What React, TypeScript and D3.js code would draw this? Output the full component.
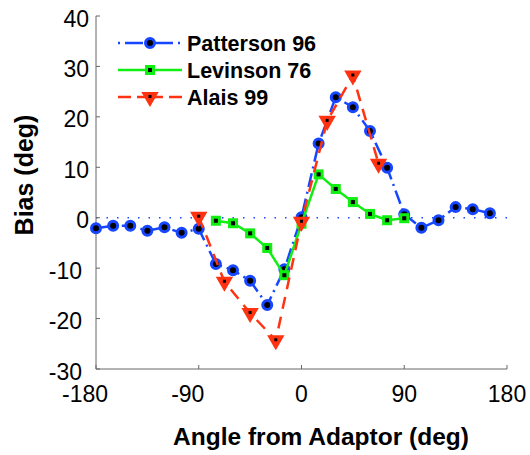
import * as d3 from "d3";

// Patterson 96 (blue circles, dash-dot)
const pattersonX = [-180, -165, -150, -135, -120, -105, -90, -75, -60, -45, -30, -15, 0, 15, 30, 45, 60, 75, 90, 105, 120, 135, 150, 165];
const pattersonY = [-2.1, -1.6, -1.6, -2.6, -1.9, -3.0, -2.2, -9.2, -10.4, -12.5, -17.3, -10.2, 0.1, 14.7, 23.9, 21.9, 17.2, 9.9, 0.7, -2.0, -0.5, 2.1, 1.7, 0.9];

// Levinson 76 (green squares, solid)
const levinsonX = [-75, -60, -45, -30, -15, 0, 15, 30, 45, 60, 75, 90];
const levinsonY = [-0.6, -1.1, -3.1, -6.0, -11.4, -1.2, 8.6, 5.7, 3.1, 0.75, -0.5, -0.1];

// Alais 99 (red triangles, dashed)
const alaisX = [-90, -67.5, -45, -22.5, 0, 22.5, 45, 67.5];
const alaisY = [0.2, -12.7, -18.9, -24.3, -0.8, 19.2, 28.2, 10.7];

const xTicks = [-180, -90, 0, 90, 180];
const yTicks = [-30, -20, -10, 0, 10, 20, 30, 40];

const seriesNames = ["Patterson 96", "Levinson 76", "Alais 99"];

const BLUE = "#1646ff";
const GREEN = "#11ee11";
const RED = "#ff3311";
const FONT = "'Liberation Sans', Arial, Helvetica, sans-serif";

export default function App() {
  const width = 530,
    height = 455;
  const left = 96,
    right = 507,
    top = 16,
    bottom = 369;

  const x = d3.scaleLinear().domain([-180, 180]).range([left, right]);
  const y = d3.scaleLinear().domain([-30, 40]).range([bottom, top]);

  const line = d3
    .line<[number, number]>()
    .x((d) => x(d[0]))
    .y((d) => y(d[1]));

  const pat = pattersonX.map((v, i) => [v, pattersonY[i]] as [number, number]);
  const lev = levinsonX.map((v, i) => [v, levinsonY[i]] as [number, number]);
  const ala = alaisX.map((v, i) => [v, alaisY[i]] as [number, number]);

  const tri = d3.symbol().type(d3.symbolTriangle).size(95)();

  const circle = (cx: number, cy: number, k: string) => (
    <circle key={k} cx={cx} cy={cy} r={4.5} fill="#000" stroke={BLUE} strokeWidth={3} />
  );
  const square = (cx: number, cy: number, k: string) => (
    <rect key={k} x={cx - 3.5} y={cy - 3.5} width={7} height={7} fill="#000" stroke={GREEN} strokeWidth={3} />
  );
  const triangle = (cx: number, cy: number, k: string) => (
    <g key={k} transform={`translate(${cx},${cy})`}>
      <path d={tri!} transform="rotate(180)" fill={RED} stroke={RED} strokeWidth={1.5} />
      <rect x={-1.5} y={-2} width={3} height={3} fill="#000" />
    </g>
  );

  const legendRows = [43, 70, 97];

  return (
    <svg width={width} height={height} style={{ position: "absolute", left: 0, top: 0, background: "#fff" }}>
      {/* zero reference line */}
      <line
        x1={x(-180)}
        x2={x(180)}
        y1={y(0)}
        y2={y(0)}
        stroke={BLUE}
        strokeWidth={1.5}
        strokeDasharray="1.5 9"
      />

      {/* axes */}
      <line x1={left} x2={left} y1={top} y2={bottom} stroke="#666" strokeWidth={1} />
      <line x1={left} x2={right} y1={bottom} y2={bottom} stroke="#666" strokeWidth={1} />
      {yTicks.map((t) => (
        <g key={"y" + t}>
          <line x1={left} x2={left + 4} y1={y(t)} y2={y(t)} stroke="#666" />
          <text
            x={t < 0 ? 82 : 89}
            y={y(t) + 10.5}
            textAnchor="end"
            fontFamily={FONT}
            fontSize={23}
            fill="#000"
          >
            {t < 0 ? "-" + Math.abs(t) : t}
          </text>
        </g>
      ))}
      {xTicks.map((t) => (
        <g key={"x" + t}>
          <line x1={x(t)} x2={x(t)} y1={bottom} y2={bottom - 4} stroke="#666" />
          <text
            x={x(t) + (t < 0 ? -11 : 0)}
            y={402}
            textAnchor="middle"
            fontFamily={FONT}
            fontSize={23}
            fill="#000"
          >
            {t < 0 ? "-" + Math.abs(t) : t}
          </text>
        </g>
      ))}

      {/* axis titles */}
      <text x={321} y={445} textAnchor="middle" fontFamily={FONT} fontWeight="bold" fontSize={24.5}>
        Angle from Adaptor (deg)
      </text>
      <text
        transform="translate(33,175) rotate(-90)"
        textAnchor="middle"
        fontFamily={FONT}
        fontWeight="bold"
        fontSize={25}
      >
        Bias (deg)
      </text>

      {/* series */}
      <path d={line(pat)!} fill="none" stroke={BLUE} strokeWidth={2.5} strokeDasharray="14 5 2 5" />
      {pat.map((d, i) => circle(x(d[0]), y(d[1]), "p" + i))}

      <path d={line(lev)!} fill="none" stroke={GREEN} strokeWidth={2.5} />
      {lev.map((d, i) => square(x(d[0]), y(d[1]), "l" + i))}

      <path d={line(ala)!} fill="none" stroke={RED} strokeWidth={2.5} strokeDasharray="12 8" />
      {ala.map((d, i) => triangle(x(d[0]), y(d[1]), "a" + i))}

      {/* legend */}
      <g>
        <line x1={118} x2={182} y1={legendRows[0]} y2={legendRows[0]} stroke={BLUE} strokeWidth={2.5} strokeDasharray="2 5 18 5" />
        {circle(150, legendRows[0], "lg0")}
        <line x1={118} x2={182} y1={legendRows[1]} y2={legendRows[1]} stroke={GREEN} strokeWidth={2.5} />
        {square(150, legendRows[1], "lg1")}
        <line x1={118} x2={182} y1={legendRows[2]} y2={legendRows[2]} stroke={RED} strokeWidth={2.5} strokeDasharray="13 6 26 6 13" />
        {triangle(150, legendRows[2], "lg2")}
        {seriesNames.map((s, i) => (
          <text key={s} x={187} y={legendRows[i] + 8} fontFamily={FONT} fontWeight="bold" fontSize={21.5}>
            {s}
          </text>
        ))}
      </g>
    </svg>
  );
}
